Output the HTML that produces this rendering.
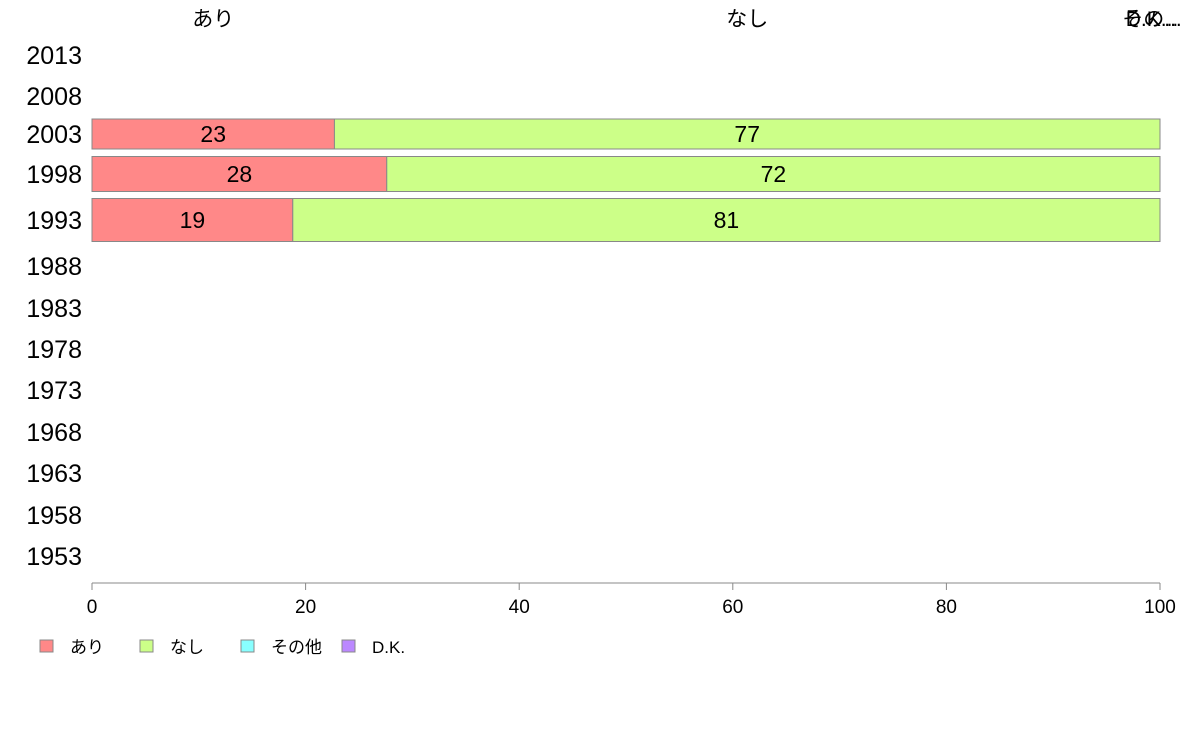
<!DOCTYPE html>
<html><head><meta charset="utf-8">
<style>
html,body{margin:0;padding:0;background:#fff;}
svg{display:block;font-family:"Liberation Sans","Noto Sans CJK JP",sans-serif;}
</style></head>
<body>
<svg id="chart" width="1188" height="736" viewBox="0 0 1188 736"></svg>
<script>
const years = ["2013","2008","2003","1998","1993","1988","1983","1978","1973","1968","1963","1958","1953"];
const seriesNames = ["あり","なし","その他","D.K."];
const seriesColors = ["#ff8888","#ccff88","#88ffff","#bb88ff"];
const ariValues = [null,null,22.7,27.6,18.8,null,null,null,null,null,null,null,null];
const nashiValues = [null,null,77.3,72.4,81.2,null,null,null,null,null,null,null,null];
const sonotaValues = [null,null,0,0,0,null,null,null,null,null,null,null,null];
const dkValues = [null,null,0,0,0,null,null,null,null,null,null,null,null];
const xTicks = [0,20,40,60,80,100];

// layout (row bands)
const rowCenters = [55,96,134,174,220,266,308,349,390,432,473,515,556];
const rowHeights = [30,30,30,35,43,30,30,30,30,30,30,30,30];
const x0 = 92, x1 = 1160;
const xs = v => x0 + (x1 - x0) * v / 100;
const NS = "http://www.w3.org/2000/svg";
const svg = document.getElementById("chart");
function mk(tag, attrs, text){
  const e = document.createElementNS(NS, tag);
  for (const k in attrs) e.setAttribute(k, attrs[k]);
  if (text !== undefined) e.textContent = text;
  svg.appendChild(e);
  return e;
}
const all = [ariValues, nashiValues, sonotaValues, dkValues];

// year labels
years.forEach((y,i)=>{
  const t = mk("text",{x:82,y:rowCenters[i]+9,"text-anchor":"end","font-size":25,fill:"#000"},y);
  
  
});

// bars
years.forEach((y,i)=>{
  if (ariValues[i] === null) return;
  let cum = 0;
  const top = rowCenters[i] - rowHeights[i]/2;
  all.forEach((arr,s)=>{
    const v = arr[i];
    if (!v) { cum += v||0; return; }
    const r = mk("rect",{x:xs(cum),y:top,width:xs(cum+v)-xs(cum),height:rowHeights[i],fill:seriesColors[s],stroke:"#888","stroke-width":1});
    
    
    const t = mk("text",{x:(xs(cum)+xs(cum+v))/2,y:rowCenters[i]+8,"text-anchor":"middle","font-size":23,fill:"#000"},Math.round(v));
    
    
    cum += v;
  });
});

// top category labels (centered on the first filled row)
const fi = ariValues.findIndex(v=>v!==null);
let c = 0;
const topLabels = ["あり","なし","その...","D.K..."];
all.forEach((arr,s)=>{
  const v = arr[fi];
  const cx = Math.min((xs(c)+xs(c+v))/2, 1152);
  const t = mk("text",{x:cx,y:26,"text-anchor":"middle","font-size":21,fill:"#000"},topLabels[s]);
  
  
  c += v;
});

// x axis
const ax = mk("line",{x1:x0,y1:583,x2:x1,y2:583,stroke:"#888","stroke-width":1});


xTicks.forEach(v=>{
  const l = mk("line",{x1:xs(v),y1:583,x2:xs(v),y2:590,stroke:"#888","stroke-width":1});
  
  
  const t = mk("text",{x:xs(v),y:613,"text-anchor":"middle","font-size":19,fill:"#000"},v);
  
  
});

// legend
const legX = [40,140,241,342];
seriesNames.forEach((n,s)=>{
  const r = mk("rect",{x:legX[s],y:640,width:13,height:12,fill:seriesColors[s],stroke:"#888","stroke-width":1});
  
  
  const t = mk("text",{x:legX[s]+30,y:653,"font-size":17,fill:"#000"},n);
  
  
});
</script>
</body></html>
